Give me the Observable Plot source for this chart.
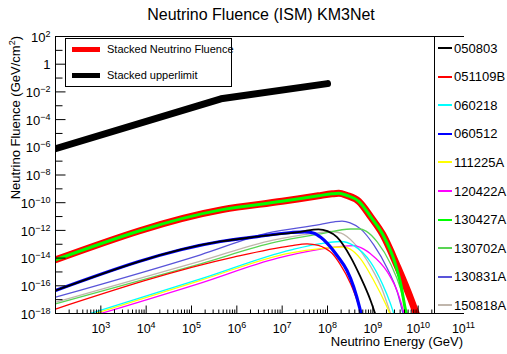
<!DOCTYPE html>
<html><head><meta charset="utf-8">
<script src="https://cdn.jsdelivr.net/npm/d3@7"></script>
<script src="https://cdn.jsdelivr.net/npm/@observablehq/plot@0.6"></script>
<style>
body{margin:0;background:#fff;}
#wrap{position:relative;width:507px;height:354px;overflow:hidden;font-family:"Liberation Sans",Arial,Helvetica,sans-serif;color:#000;background:#fff;}
.lg{position:absolute;background:#fff;}
.row{position:absolute;display:flex;align-items:center;white-space:nowrap;}
.sw{display:inline-block;}
</style></head>
<body><div id="wrap"></div>
<script>
// ---- data (log10 of energy in GeV, log10 of fluence in GeV/cm^2) ----
const logE_upper = [2, 5.65, 8.0];
const logF_upper = [-6.1, -2.5, -1.4];

const logE_stacked = [2, 5.68, 7.0, 7.8, 8.1, 8.25, 8.43, 8.69, 8.96, 9.22, 9.55, 9.85, 10.0];
const logF_stacked = [-14.12, -10.5, -9.9, -9.5, -9.36, -9.32, -9.48, -9.9, -11.05, -12.3, -14.66, -17.06, -18.4];

const logE_050803 = [2, 5.64, 6.45, 7.4, 7.8, 8.0, 8.21, 8.51, 8.73, 8.95, 9.06];
const logF_050803 = [-16.34, -12.8, -12.45, -12.1, -11.92, -12.05, -12.49, -13.93, -15.38, -17.06, -18.1];

const logE_051109B = [2, 5.93, 7.18, 7.55, 7.8, 7.95, 8.1, 8.27, 8.51, 8.69, 8.78];
const logF_051109B = [-17.68, -13.93, -13.12, -12.97, -13.08, -13.3, -13.65, -14.4, -15.85, -17.4, -18.3];

const logE_060218 = [2.7, 5.2, 7.2, 7.85, 8.29, 8.58, 8.95, 9.21, 9.39, 9.48];
const logF_060218 = [-18.07, -15.5, -13.4, -12.95, -12.8, -13.1, -14.29, -15.86, -17.3, -18.2];

const logE_060512 = [2, 5.64, 6.45, 7.2, 7.5, 7.7, 7.85, 8.0, 8.21, 8.43, 8.58, 8.71, 8.76];
const logF_060512 = [-16.34, -12.8, -12.45, -12.15, -12.1, -12.2, -12.5, -12.95, -13.81, -14.9, -16.1, -17.6, -18.3];

const logE_111225A = [2.8, 5.2, 7.2, 7.85, 8.36, 8.5, 8.73, 9.02, 9.28, 9.4];
const logF_111225A = [-18.08, -15.6, -13.62, -13.32, -13.2, -13.35, -14.05, -15.62, -17.3, -18.2];

const logE_120422A = [2.9, 5.2, 6.9, 7.85, 8.3, 8.58, 8.8, 8.95, 9.32, 9.55, 9.69, 9.72];
const logF_120422A = [-18.1, -15.8, -14.0, -13.35, -13.15, -13.1, -13.35, -13.69, -15.0, -16.5, -18.0, -18.4];

const logE_130427A = [2, 5.68, 7.0, 7.8, 8.1, 8.25, 8.43, 8.69, 8.96, 9.22, 9.5, 9.62, 9.7, 9.76];
const logF_130427A = [-14.12, -10.5, -9.9, -9.5, -9.36, -9.32, -9.48, -9.9, -11.05, -12.3, -14.45, -15.95, -17.4, -18.4];

const logE_130702A = [2, 5.2, 6.85, 7.85, 8.51, 8.7, 8.85, 9.1, 9.39, 9.61, 9.73, 9.78];
const logF_130702A = [-17.3, -14.41, -12.85, -12.25, -11.9, -11.9, -12.05, -12.85, -14.41, -16.2, -17.8, -18.4];

const logE_130831A = [2, 5.2, 6.67, 7.85, 8.15, 8.32, 8.5, 8.73, 9.02, 9.32, 9.54, 9.65, 9.7];
const logF_130831A = [-16.82, -13.76, -12.2, -11.57, -11.38, -11.33, -11.45, -11.89, -13.05, -14.75, -16.45, -17.8, -18.4];

const logE_150818A = [2, 5.2, 6.8, 7.7, 8.07, 8.3, 8.58, 8.95, 9.21, 9.35, 9.42];
const logF_150818A = [-17.18, -14.22, -12.7, -12.22, -12.08, -12.2, -12.9, -14.6, -16.3, -17.6, -18.3];

const grbNames  = ["050803", "051109B", "060218", "060512", "111225A", "120422A", "130427A", "130702A", "130831A", "150818A"];
const grbColors = ["#000000", "#ff0000", "#00ffff", "#0000ff", "#ffff00", "#ff00ff", "#00ff00", "#59d454", "#5954d9", "#c0b6ac"];
const grbWidths = [1.8, 1.3, 1.3, 3.2, 1.3, 1.3, 3, 1.3, 1.3, 1.3];

const xTickExps = [3, 4, 5, 6, 7, 8, 9, 10, 11];
const yTickExps = [2, 0, -2, -4, -6, -8, -10, -12, -14, -16, -18];

const titleText = "Neutrino Fluence (ISM) KM3Net";
const xTitle = "Neutrino Energy (GeV)";
const yTitle = "Neutrino Fluence (GeV/cm";

// ---- build ----
const pts = (le, lf) => le.map((e, i) => ({E: 10 ** e, F: 10 ** lf[i]}));
const series = {
  "050803": pts(logE_050803, logF_050803),
  "051109B": pts(logE_051109B, logF_051109B),
  "060218": pts(logE_060218, logF_060218),
  "060512": pts(logE_060512, logF_060512),
  "111225A": pts(logE_111225A, logF_111225A),
  "120422A": pts(logE_120422A, logF_120422A),
  "130427A": pts(logE_130427A, logF_130427A),
  "130702A": pts(logE_130702A, logF_130702A),
  "130831A": pts(logE_130831A, logF_130831A),
  "150818A": pts(logE_150818A, logF_150818A)
};
const drawOrder = ["150818A", "130831A", "130702A", "120422A", "111225A", "060218", "051109B", "060512", "050803", "130427A"];

const vTick = len => ({draw(ctx) { ctx.moveTo(0, 0); ctx.lineTo(0, -len); }});
const hTick = len => ({draw(ctx) { ctx.moveTo(0, 0); ctx.lineTo(len, 0); }});

const xMajor = d3.range(3, 11).map(k => 10 ** k);
const xMinor = [];
for (let k = 2; k <= 10; k++) for (let m = 2; m <= 9; m++) xMinor.push(m * 10 ** k);
const yEven = d3.range(-16, 2, 2).map(k => 10 ** k);
const yOdd = d3.range(-17, 2, 2).map(k => 10 ** k);

const ff = '"Liberation Sans", Arial, Helvetica, sans-serif';
const lineOpts = (name) => {
  const i = grbNames.indexOf(name);
  return {x: "E", y: "F", stroke: grbColors[i], strokeWidth: grbWidths[i], curve: "monotone-x", clip: true};
};

const chart = Plot.plot({
  width: 507, height: 354,
  marginLeft: 55, marginRight: 44, marginTop: 36, marginBottom: 41,
  x: {type: "log", domain: [1e2, 1e11], axis: null},
  y: {type: "log", domain: [1e-18, 1e2], axis: null},
  style: {background: "white", fontFamily: ff, overflow: "visible", color: "black"},
  marks: [
    Plot.line(pts(logE_stacked, logF_stacked), {x: "E", y: "F", stroke: "#ff0000", strokeWidth: 7, curve: "monotone-x", clip: true}),
    Plot.line(pts(logE_upper, logF_upper), {x: "E", y: "F", stroke: "#000000", strokeWidth: 7, curve: "linear", clip: true}),
    ...drawOrder.map(n => Plot.line(series[n], lineOpts(n))),
    Plot.frame({stroke: "black", strokeWidth: 1}),
    Plot.dot(xMajor, {x: d => d, y: () => 1e-18, r: 1, symbol: vTick(8), fill: "none", stroke: "black", strokeWidth: 1}),
    Plot.dot(xMinor, {x: d => d, y: () => 1e-18, r: 1, symbol: vTick(4), fill: "none", stroke: "black", strokeWidth: 1}),
    Plot.dot(yEven, {x: () => 1e2, y: d => d, r: 1, symbol: hTick(10), fill: "none", stroke: "black", strokeWidth: 1}),
    Plot.dot(yOdd, {x: () => 1e2, y: d => d, r: 1, symbol: hTick(7), fill: "none", stroke: "black", strokeWidth: 1}),
    Plot.text(xTickExps, {x: d => 10 ** d, y: () => 1e-18, text: d => `10^${d}`, dy: 15, fontSize: 12.5, textAnchor: "middle", fill: "black"}),
    Plot.text(yTickExps, {x: () => 1e2, y: d => 10 ** d, text: d => d === 0 ? "1" : `10^${d < 0 ? "\u2212" + (-d) : d}`, dx: -5, dy: 1, fontSize: 13, textAnchor: "end", fill: "black"})
  ]
});

const svgNS = "http://www.w3.org/2000/svg";
d3.select(chart).selectAll("text").each(function () {
  const t = this.textContent;
  if (t.indexOf("^") < 0) return;
  const [base, exp] = t.split("^");
  this.textContent = base;
  const ts = document.createElementNS(svgNS, "tspan");
  ts.setAttribute("dy", "-5");
  ts.setAttribute("font-size", "9");
  ts.textContent = exp;
  this.appendChild(ts);
});

const svg = d3.select(chart);
svg.append("text").attr("x", 261).attr("y", 20).attr("text-anchor", "middle")
  .attr("font-size", 16).attr("font-family", ff).attr("fill", "black").text(titleText);
svg.append("text").attr("x", 463).attr("y", 346).attr("text-anchor", "end")
  .attr("font-size", 13).attr("font-family", ff).attr("fill", "black").text(xTitle);
const yt = svg.append("text").attr("transform", "translate(20,36) rotate(-90)").attr("text-anchor", "end")
  .attr("font-size", 13).attr("font-family", ff).attr("fill", "black");
yt.append("tspan").text(yTitle);
yt.append("tspan").attr("dy", -5).attr("font-size", 9).text("2");
yt.append("tspan").attr("dy", 5).text(")");

const wrap = document.getElementById("wrap");
wrap.appendChild(chart);

// ---- legends ----
const topLegend = [
  {label: "Stacked Neutrino Fluence", color: "#ff0000"},
  {label: "Stacked upperlimit", color: "#000000"}
];
const lg1 = document.createElement("div");
lg1.className = "lg";
Object.assign(lg1.style, {left: "65px", top: "38px", width: "167px", height: "49px", border: "1px solid #000", boxSizing: "border-box"});
topLegend.forEach((d, i) => {
  const r = document.createElement("div");
  r.className = "row";
  Object.assign(r.style, {left: "6px", top: (3 + 26 * i) + "px", height: "14px", fontSize: "11px"});
  r.innerHTML = `<span class="sw" style="width:28px;height:5px;background:${d.color}"></span><span style="margin-left:7px">${d.label}</span>`;
  lg1.appendChild(r);
});
wrap.appendChild(lg1);

const lg2 = document.createElement("div");
lg2.className = "lg";
Object.assign(lg2.style, {left: "434px", top: "36px", width: "80px", height: "278px", borderLeft: "1px solid #000", boxSizing: "border-box"});
const segTop = document.createElement("div");
Object.assign(segTop.style, {position: "absolute", left: "0px", top: "0px", width: "29px", height: "1px", background: "#000"});
const segBot = document.createElement("div");
Object.assign(segBot.style, {position: "absolute", left: "0px", top: "277px", width: "29px", height: "1px", background: "#000"});
lg2.appendChild(segTop); lg2.appendChild(segBot);
grbNames.forEach((n, i) => {
  const r = document.createElement("div");
  r.className = "row";
  Object.assign(r.style, {left: "3px", top: (12 + 28.6 * i - 8) + "px", height: "16px", fontSize: "13px"});
  r.innerHTML = `<span class="sw" style="width:14px;height:2px;background:${grbColors[i]}"></span><span style="margin-left:2px">${n}</span>`;
  lg2.appendChild(r);
});
wrap.appendChild(lg2);
</script>
</body></html>
